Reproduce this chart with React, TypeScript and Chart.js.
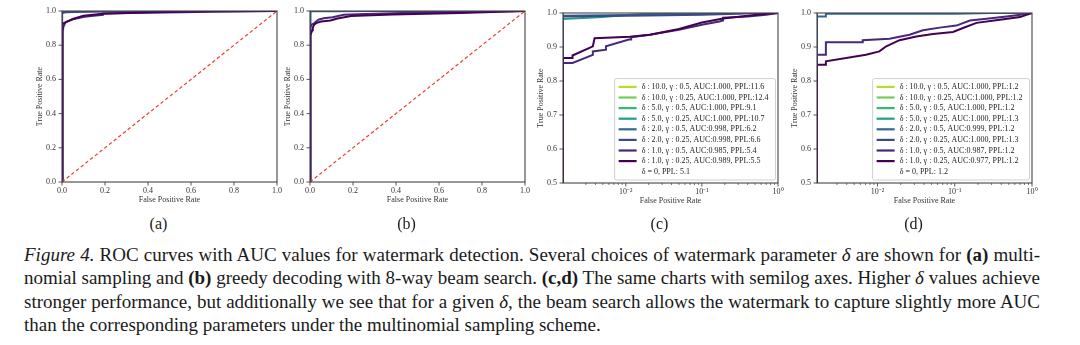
import React, { useEffect, useLayoutEffect, useRef } from 'react';
import { Chart, registerables } from 'chart.js';

Chart.register(...registerables);

// ---------------- data ----------------
const SERIES_DELTA = [10.0, 10.0, 5.0, 5.0, 2.0, 2.0, 1.0, 1.0];
const SERIES_GAMMA = ['0.5', '0.25', '0.5', '0.25', '0.5', '0.25', '0.5', '0.25'];
const SERIES_COLORS = ['#b5de2b', '#6ece58', '#35b779', '#1f9e89', '#31688e', '#3e4989', '#482878', '#440154'];

const MULTI_AUC = [1.0, 1.0, 1.0, 1.0, 0.998, 0.998, 0.985, 0.989];
const MULTI_PPL = ['11.6', '12.4', '9.1', '10.7', '6.2', '6.6', '5.4', '5.5'];
const MULTI_BASE_PPL = '5.1';

const BEAM_AUC = [1.0, 1.0, 1.0, 1.0, 0.999, 1.0, 0.987, 0.977];
const BEAM_PPL = ['1.2', '1.2', '1.2', '1.3', '1.2', '1.3', '1.2', '1.2'];
const BEAM_BASE_PPL = '1.2';

// ROC curves, multinomial sampling (panels a, c)
const MULTI_FPR: number[][] = [
  [0, 0, 1],
  [0, 0, 1],
  [0, 0, 1],
  [0, 0, 0.002, 0.005, 0.01, 0.02, 0.025, 1],
  [0, 0, 0.01, 0.05, 0.12, 0.2, 1],
  [0, 0, 0.02, 0.1, 0.3, 0.5, 1],
  [0, 0, 0.002, 0.0037, 0.0037, 0.0055, 0.0055, 0.011, 0.0118, 0.0118, 0.0207, 0.05, 0.104, 0.17, 0.19, 0.19, 0.4, 0.7, 1],
  [0, 0, 0.002, 0.002, 0.0037, 0.0039, 0.0113, 0.0207, 0.05, 0.1, 0.19, 0.4, 0.7, 1],
];
const MULTI_TPR: number[][] = [
  [0, 1, 1],
  [0, 1, 1],
  [0, 1, 1],
  [0, 0.982, 0.984, 0.988, 0.994, 0.998, 1, 1],
  [0, 0.992, 0.994, 0.996, 0.997, 1, 1],
  [0, 0.99, 0.993, 0.995, 0.998, 1, 1],
  [0, 0.853, 0.853, 0.877, 0.887, 0.892, 0.902, 0.922, 0.922, 0.929, 0.936, 0.951, 0.966, 0.975, 0.978, 0.986, 0.99, 0.995, 1],
  [0, 0.868, 0.868, 0.875, 0.902, 0.926, 0.93, 0.936, 0.953, 0.972, 0.984, 0.992, 0.998, 1],
];

// ROC curves, 8-way beam search (panels b, d)
const BEAM_FPR: number[][] = [
  [0, 0, 1],
  [0, 0, 1],
  [0, 0, 1],
  [0, 0, 0.003, 1],
  [0, 0, 0.00215, 0.00215, 0.1, 0.3, 1],
  [0, 0, 0.005, 1],
  [0, 0, 0.00215, 0.00215, 0.00645, 0.00645, 0.0143, 0.026, 0.0388, 0.0638, 0.105, 0.157, 0.258, 0.469, 0.8, 1],
  [0, 0, 0.00215, 0.00215, 0.0071, 0.0106, 0.013, 0.0193, 0.0318, 0.0523, 0.095, 0.128, 0.191, 0.384, 0.699, 1],
];
const BEAM_TPR: number[][] = [
  [0, 1, 1],
  [0, 1, 1],
  [0, 1, 1],
  [0, 0.998, 1, 1],
  [0, 0.99, 0.99, 0.998, 0.998, 1, 1],
  [0, 0.997, 1, 1],
  [0, 0.877, 0.877, 0.914, 0.914, 0.92, 0.924, 0.936, 0.949, 0.957, 0.963, 0.978, 0.983, 0.99, 0.996, 1],
  [0, 0.848, 0.848, 0.858, 0.877, 0.887, 0.902, 0.92, 0.931, 0.938, 0.944, 0.956, 0.971, 0.98, 0.988, 1],
];

const CHANCE_FPR = [0, 1];
const CHANCE_TPR = [0, 1];

const SUBFIG_LABELS = ['(a)', '(b)', '(c)', '(d)'];

// ---------------- styling / layout ----------------
const SERIF = '"Liberation Serif", "Times New Roman", serif';
const TICK_FONT = { family: SERIF, size: 8 };
const TITLE_FONT = { family: SERIF, size: 8 };
const LEGEND_FONT = `8px ${SERIF}`;
const AXIS_COLOR = '#444';
const TEXT_COLOR = '#333';

type PanelDef = {
  fpr: number[][];
  tpr: number[][];
  auc: number[];
  ppl: string[];
  basePpl: string;
  log: boolean;
  xMin: number;
  L: number; R: number; T: number; B: number;
};

const PANELS: PanelDef[] = [
  { fpr: MULTI_FPR, tpr: MULTI_TPR, auc: MULTI_AUC, ppl: MULTI_PPL, basePpl: MULTI_BASE_PPL, log: false, xMin: 0, L: 62, R: 277, T: 11, B: 182 },
  { fpr: BEAM_FPR, tpr: BEAM_TPR, auc: BEAM_AUC, ppl: BEAM_PPL, basePpl: BEAM_BASE_PPL, log: false, xMin: 0, L: 310, R: 525, T: 11, B: 182 },
  { fpr: MULTI_FPR, tpr: MULTI_TPR, auc: MULTI_AUC, ppl: MULTI_PPL, basePpl: MULTI_BASE_PPL, log: true, xMin: 0.0015, L: 563, R: 778, T: 13, B: 183 },
  { fpr: BEAM_FPR, tpr: BEAM_TPR, auc: BEAM_AUC, ppl: BEAM_PPL, basePpl: BEAM_BASE_PPL, log: true, xMin: 0.00165, L: 817, R: 1032, T: 13, B: 183 },
];

const PAD_LEFT = 35;
const Y_AXIS_W = 27;
const PAD_TOP = 11;
const PAD_RIGHT = 13;
const X_AXIS_H = 23;

function isPow10(v: number) {
  const l = Math.log10(v);
  return Math.abs(l - Math.round(l)) < 1e-6;
}
function isLogTick(v: number) {
  const e = Math.floor(Math.log10(v) + 1e-9);
  const m = v / Math.pow(10, e);
  return Math.abs(m - Math.round(m)) < 1e-6;
}
const SUP: Record<string, string> = { '-': '⁻', '0': '⁰', '1': '¹', '2': '²', '3': '³', '4': '⁴', '5': '⁵', '6': '⁶', '7': '⁷', '8': '⁸', '9': '⁹' };
function pow10Label(v: number) {
  const e = Math.round(Math.log10(v));
  return '10' + String(e).split('').map((c) => SUP[c] || c).join('');
}

function seriesLabel(i: number, auc: number[], ppl: string[]) {
  return `δ : ${SERIES_DELTA[i].toFixed(1)}, γ : ${SERIES_GAMMA[i]}, AUC:${auc[i].toFixed(3)}, PPL:${ppl[i]}`;
}

const framePlugin = {
  id: 'frameAndTicks',
  afterDatasetsDraw(chart: any) {
    const { ctx, chartArea: a } = chart;
    ctx.save();
    ctx.strokeStyle = AXIS_COLOR;
    // tick marks (outward)
    const xs = chart.scales.x;
    xs.ticks.forEach((t: any) => {
      const major = xs.type !== 'logarithmic' || isPow10(t.value);
      const len = major ? 3.5 : 2;
      const px = xs.getPixelForValue(t.value);
      ctx.lineWidth = major ? 0.9 : 0.7;
      ctx.beginPath();
      ctx.moveTo(px, a.bottom);
      ctx.lineTo(px, a.bottom + len);
      ctx.stroke();
    });
    const ys = chart.scales.y;
    ys.ticks.forEach((t: any) => {
      const py = ys.getPixelForValue(t.value);
      ctx.lineWidth = 0.9;
      ctx.beginPath();
      ctx.moveTo(a.left - 3.5, py);
      ctx.lineTo(a.left, py);
      ctx.stroke();
    });
    // spines
    ctx.lineWidth = 1.1;
    ctx.strokeRect(a.left, a.top, a.right - a.left, a.bottom - a.top);
    ctx.restore();
  },
};

function makeLegendPlugin(baseLabel: string) {
  return {
    id: 'innerLegend',
    afterDraw(chart: any) {
      const { ctx, chartArea: a } = chart;
      const entries: { label: string; color: string | null }[] = chart.data.datasets
        .filter((d: any) => d.inLegend)
        .map((d: any) => ({ label: d.label, color: d.borderColor }));
      entries.push({ label: baseLabel, color: null });
      ctx.save();
      ctx.font = LEGEND_FONT;
      const textW = Math.max(...entries.map((e) => ctx.measureText(e.label).width));
      const rowH = 10.6;
      const padV = 3;
      const w = 27 + textW + 7;
      const h = entries.length * rowH + padV * 2;
      const right = a.right - 2.5;
      const bottom = a.bottom - 3;
      const left = right - w;
      const top = bottom - h;
      ctx.fillStyle = 'rgba(255,255,255,0.85)';
      ctx.strokeStyle = '#cfcfcf';
      ctx.lineWidth = 1;
      ctx.beginPath();
      if ((ctx as any).roundRect) (ctx as any).roundRect(left, top, w, h, 2);
      else ctx.rect(left, top, w, h);
      ctx.fill();
      ctx.stroke();
      entries.forEach((e, i) => {
        const cy = top + padV + rowH * (i + 0.5);
        if (e.color) {
          ctx.strokeStyle = e.color;
          ctx.lineWidth = 2.2;
          ctx.beginPath();
          ctx.moveTo(left + 4, cy);
          ctx.lineTo(left + 22, cy);
          ctx.stroke();
        }
        ctx.fillStyle = '#222';
        ctx.textBaseline = 'middle';
        ctx.textAlign = 'left';
        ctx.fillText(e.label, left + 27, cy);
      });
      ctx.restore();
    },
  };
}

function buildConfig(p: PanelDef): any {
  const datasets: any[] = SERIES_DELTA.map((_, i) => ({
    label: seriesLabel(i, p.auc, p.ppl),
    data: p.fpr[i].map((x, j) => ({ x, y: p.tpr[i][j] })),
    borderColor: SERIES_COLORS[i],
    backgroundColor: SERIES_COLORS[i],
    borderWidth: 2,
    pointRadius: 0,
    fill: false,
    tension: 0,
    order: 8 - i,
    inLegend: true,
  }));
  if (!p.log) {
    datasets.push({
      label: 'chance',
      data: CHANCE_FPR.map((x, j) => ({ x, y: CHANCE_TPR[j] })),
      borderColor: '#f23b30',
      borderWidth: 1.2,
      borderDash: [3.5, 2.5],
      pointRadius: 0,
      fill: false,
      order: 0,
      inLegend: false,
    });
  }

  const xScale: any = p.log
    ? {
        type: 'logarithmic',
        min: p.xMin,
        max: 1,
        afterBuildTicks: (s: any) => {
          s.ticks = s.ticks.filter((t: any) => t.value >= p.xMin * 0.999 && isLogTick(t.value));
        },
        ticks: {
          callback: (v: any) => (isPow10(Number(v)) ? pow10Label(Number(v)) : ''),
        },
      }
    : {
        type: 'linear',
        min: 0,
        max: 1,
        ticks: { stepSize: 0.2, callback: (v: any) => Number(v).toFixed(1) },
      };
  xScale.border = { display: false };
  xScale.grid = { display: false, drawTicks: false };
  xScale.ticks = { ...xScale.ticks, font: TICK_FONT, color: TEXT_COLOR, padding: 4.5, maxRotation: 0, autoSkip: false };
  xScale.title = { display: true, text: 'False Positive Rate', font: TITLE_FONT, color: TEXT_COLOR, padding: 0 };
  xScale.afterFit = (s: any) => { s.height = X_AXIS_H; };

  const yScale: any = {
    type: 'linear',
    min: p.log ? 0.5 : 0,
    max: 1,
    border: { display: false },
    grid: { display: false, drawTicks: false },
    ticks: {
      stepSize: p.log ? 0.1 : 0.2,
      callback: (v: any) => Number(v).toFixed(1),
      font: TICK_FONT,
      color: TEXT_COLOR,
      padding: 6,
      autoSkip: false,
    },
    title: { display: true, text: 'True Positive Rate', font: TITLE_FONT, color: TEXT_COLOR, padding: 0 },
    afterFit: (s: any) => { s.width = Y_AXIS_W; },
  };

  const plugins: any[] = [framePlugin];
  if (p.log) plugins.push(makeLegendPlugin(`δ = 0, PPL: ${p.basePpl}`));

  return {
    type: 'line',
    data: { datasets },
    options: {
      animation: false,
      responsive: false,
      maintainAspectRatio: false,
      devicePixelRatio: 1,
      layout: { padding: { left: PAD_LEFT, top: PAD_TOP, right: PAD_RIGHT, bottom: 0 } },
      plugins: { legend: { display: false }, tooltip: { enabled: false }, title: { display: false } },
      elements: { point: { radius: 0 }, line: { tension: 0 } },
      scales: { x: xScale, y: yScale },
    },
    plugins,
  };
}

function ChartPanel({ p }: { p: PanelDef }) {
  const ref = useRef<HTMLCanvasElement>(null);
  const left = p.L - PAD_LEFT - Y_AXIS_W;
  const top = p.T - PAD_TOP;
  const width = p.R - p.L + PAD_LEFT + Y_AXIS_W + PAD_RIGHT;
  const height = p.B - p.T + PAD_TOP + X_AXIS_H;
  useEffect(() => {
    const chart = new Chart(ref.current as HTMLCanvasElement, buildConfig(p));
    return () => chart.destroy();
  }, []);
  return (
    <canvas
      ref={ref}
      width={width}
      height={height}
      style={{ position: 'absolute', left, top, width, height }}
    />
  );
}

// ---------------- caption ----------------
const CAPTION_LEFT = 24;
const CAPTION_WIDTH = 1016;
const CAPTION_TOP = 243;
const CAPTION_LINE_H = 23.3;

const CAPTION_LINES: React.ReactNode[] = [
  <>
    <i>Figure 4.</i> ROC curves with AUC values for watermark detection. Several choices of watermark parameter <i>δ</i> are shown for <b>(a)</b> multi-
  </>,
  <>
    nomial sampling and <b>(b)</b> greedy decoding with 8-way beam search. <b>(c,d)</b> The same charts with semilog axes. Higher <i>δ</i> values achieve
  </>,
  <>
    stronger performance, but additionally we see that for a given <i>δ</i>, the beam search allows the watermark to capture slightly more AUC
  </>,
  <>than the corresponding parameters under the multinomial sampling scheme.</>,
];

function Caption() {
  const refs = useRef<(HTMLSpanElement | null)[]>([]);
  useLayoutEffect(() => {
    const justify = () => {
      refs.current.forEach((el, i) => {
        if (!el || i === CAPTION_LINES.length - 1) return;
        el.style.wordSpacing = '0px';
        const w = el.getBoundingClientRect().width;
        const n = (el.textContent || '').split(' ').length - 1;
        if (n > 0) el.style.wordSpacing = `${(CAPTION_WIDTH - w) / n}px`;
      });
    };
    justify();
    if ((document as any).fonts && (document as any).fonts.ready) {
      (document as any).fonts.ready.then(justify);
    }
  }, []);
  return (
    <div
      style={{
        position: 'absolute',
        left: CAPTION_LEFT,
        top: CAPTION_TOP,
        width: CAPTION_WIDTH,
        fontFamily: SERIF,
        fontSize: 19,
        lineHeight: `${CAPTION_LINE_H}px`,
        color: '#1a1a1a',
      }}
    >
      {CAPTION_LINES.map((line, i) => (
        <div key={i} style={{ height: CAPTION_LINE_H, whiteSpace: 'nowrap' }}>
          <span ref={(el) => { refs.current[i] = el; }}>{line}</span>
        </div>
      ))}
    </div>
  );
}

export default function App() {
  return (
    <div
      style={{
        position: 'absolute',
        left: 0,
        top: 0,
        width: 1080,
        height: 345,
        background: '#fff',
        overflow: 'hidden',
      }}
    >
      {PANELS.map((p, i) => (
        <ChartPanel key={i} p={p} />
      ))}
      {PANELS.map((p, i) => (
        <div
          key={'lab' + i}
          style={{
            position: 'absolute',
            left: (p.L + p.R) / 2 - 11,
            top: 214,
            transform: 'translateX(-50%)',
            fontFamily: SERIF,
            fontSize: 16,
            lineHeight: '20px',
            color: '#1a1a1a',
          }}
        >
          {SUBFIG_LABELS[i]}
        </div>
      ))}
      <Caption />
    </div>
  );
}
